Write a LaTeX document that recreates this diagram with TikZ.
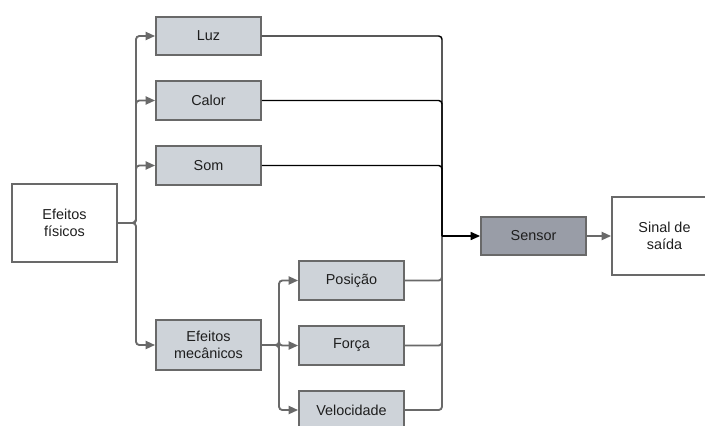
\documentclass[tikz,border=0pt]{standalone}
\usepackage{fontspec}
\setmainfont{Liberation Sans}
\usetikzlibrary{arrows.meta, positioning}
\definecolor{boxgray}{RGB}{206,211,217}
\definecolor{sensorgray}{RGB}{153,157,167}
\definecolor{linegray}{RGB}{105,105,105}
\definecolor{textgray}{RGB}{30,30,30}

\begin{document}
\begin{tikzpicture}[x=0.75pt, y=-0.75pt,
  box/.style={draw=linegray, line width=1.4pt, fill=boxgray, text=textgray,
    minimum width=78.75pt, minimum height=29pt, inner sep=0pt,
    align=center, font=\fontsize{10.8}{12.8}\selectfont},
  bigbox/.style={box, fill=white, minimum height=58.5pt},
  conn/.style={draw=linegray, line width=1.4pt, rounded corners=2.5pt},
  arr/.style={conn, -{Triangle[length=7pt, width=6pt]}},
  blk/.style={conn, draw=black, line width=1.1pt}]
  \useasboundingbox (0,0) rectangle (705,425);
  % left column
  \node[bigbox] (fis) at (64.5,223) {Efeitos\\físicos};
  \node[box] (luz) at (208.5,36) {Luz};
  \node[box] (calor) at (208.5,100.5) {Calor};
  \node[box] (som) at (208.5,165.5) {Som};
  \node[box, minimum height=37.5pt] (mec) at (208.5,345) {Efeitos\\mecânicos};
  % mechanical effects
  \node[box] (pos) at (351.5,280.5) {Posição};
  \node[box] (forca) at (351.5,345.5) {Força};
  \node[box] (vel) at (351.5,410) {Velocidade};
  % sensor and output
  \node[box, fill=sensorgray] (sensor) at (533.5,236) {Sensor};
  \node[bigbox] (sinal) at (664.5,236) {Sinal de\\saída};
  \coordinate (j) at (442,236);
  \coordinate (t1) at (136,223);
  \coordinate (t2) at (279,345);
  % branches
  \foreach \n in {luz,calor,som,mec}
    \draw[arr] (fis.east) -- (t1) |- (\n.west);
  \foreach \n in {pos,forca,vel}
    \draw[arr] (mec.east) -- (t2) |- (\n.west);
  % collector
  \foreach \n in {pos,forca,vel}
    \draw[conn] (\n.east) -| (j);
  \foreach \n in {luz,calor,som}
    \draw[blk] (\n.east) -| (j);
  \draw[blk, -{Triangle[length=7pt, width=6pt]}] (j) -- (sensor.west);
  \draw[arr] (sensor.east) -- (sinal.west);
\end{tikzpicture}
\end{document}
